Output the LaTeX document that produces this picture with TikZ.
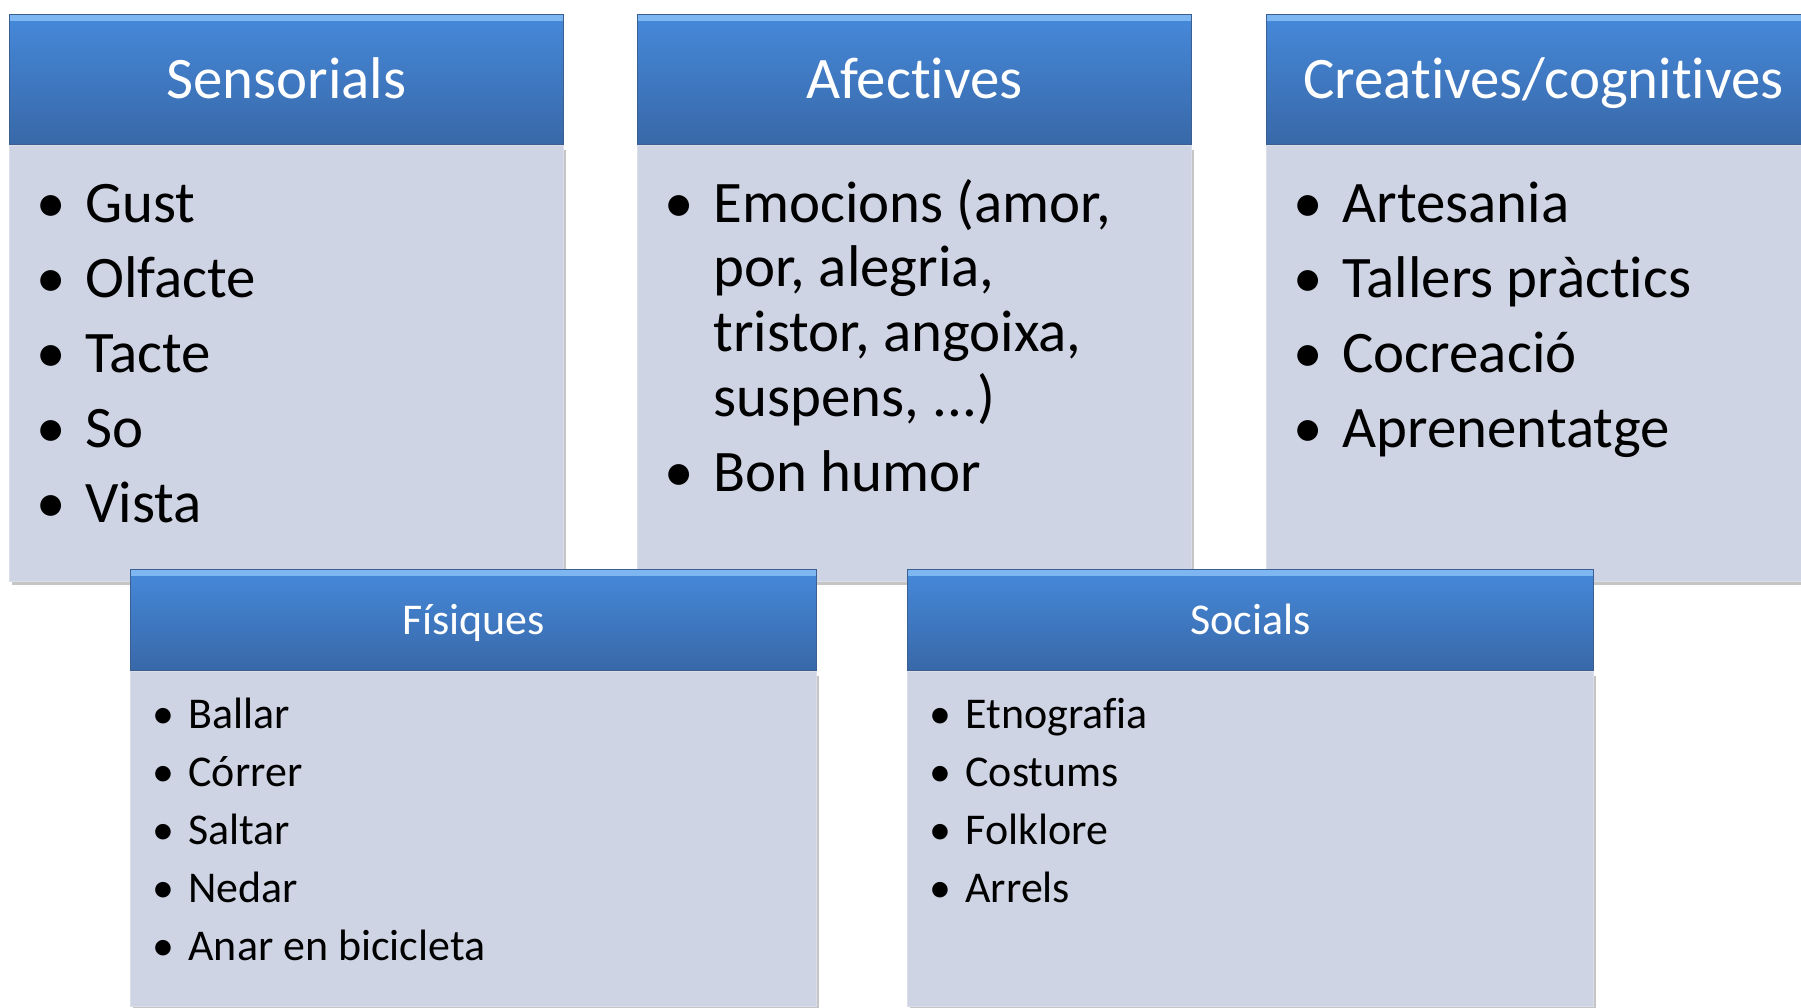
\documentclass[tikz,border=0pt]{standalone}
\usepackage{fontspec}
\setmainfont{Carlito}[Ligatures=NoCommon]
\usetikzlibrary{positioning}
\usetikzlibrary{shadows}

\definecolor{headTop}{RGB}{70,137,218}
\definecolor{headBot}{RGB}{56,104,168}
\definecolor{headLine}{RGB}{125,182,240}
\definecolor{headEdge}{RGB}{60,95,145}
\definecolor{bodyFill}{RGB}{206,212,227}
\definecolor{bodyEdge}{RGB}{218,222,232}

\newlength{\bulpos}
\newlength{\bulind}
\newlength{\strutht}
\newcommand{\bul}[1]{\hangindent=\bulind\hangafter=1\noindent\rule{0pt}{\strutht}\hspace*{\bulpos}\makebox[0pt]{\textbullet}\hspace*{\dimexpr\bulind-\bulpos\relax}#1\par}
\newcommand{\toplist}[1]{%
  \begin{minipage}[t][8.72cm][t]{11.08cm}
    \fontsize{33.5pt}{36.8pt}\selectfont\raggedright
    \setlength{\parskip}{6pt}\setlength{\bulpos}{0.84cm}\setlength{\bulind}{1.52cm}\setlength{\strutht}{0.9cm}
    \vspace*{0.63cm}
    #1
  \end{minipage}}
\newcommand{\lowlist}[1]{%
  \begin{minipage}[t][6.7cm][t]{13.72cm}
    \fontsize{25pt}{29pt}\selectfont\raggedright
    \setlength{\parskip}{4pt}\setlength{\bulpos}{0.66cm}\setlength{\bulind}{1.16cm}\setlength{\strutht}{0.7cm}
    \vspace*{0.44cm}
    #1
  \end{minipage}}

\begin{document}
\begin{tikzpicture}[x=0.02cm, y=-0.02cm,
    headLook/.style={rectangle, inner sep=0pt, draw=headEdge, line width=0.6pt, top color=headTop, bottom color=headBot, text=white,
      path picture={\fill[headLine] (path picture bounding box.north west) rectangle ([yshift=-0.12cm]path picture bounding box.north east);}},
    topHead/.style={headLook, anchor=north west, minimum width=11.08cm, minimum height=2.6cm, font=\fontsize{33.5pt}{40pt}\selectfont, text height=0.76cm, text depth=0pt},
    lowHead/.style={headLook, anchor=north west, minimum width=13.72cm, minimum height=2.02cm, font=\fontsize{25pt}{30pt}\selectfont, text height=0.57cm, text depth=0pt},
    bodyLook/.style={rectangle, inner sep=0pt, fill=bodyFill, draw=bodyEdge, line width=0.6pt, drop shadow={shadow xshift=0.05cm, shadow yshift=-0.08cm, fill=black!45}}]
    \useasboundingbox (0,0) rectangle (1801,1007);

    % top row
    \node [topHead] (sensHead) at (9,14) {Sensorials};
    \node [bodyLook, below=0cm of sensHead] (sensBody) {\toplist{\bul{Gust}\bul{Olfacte}\bul{Tacte}\bul{So}\bul{Vista}}};

    \node [topHead] (afecHead) at (637,14) {Afectives};
    \node [bodyLook, below=0cm of afecHead] (afecBody) {\toplist{\bul{Emocions (amor,\newline por, alegria,\newline tristor, angoixa,\newline suspens, ...)}\bul{Bon humor}}};

    \node [topHead] (creaHead) at (1266,14) {Creatives/cognitives};
    \node [bodyLook, below=0cm of creaHead] (creaBody) {\toplist{\bul{Artesania}\bul{Tallers pràctics}\bul{Cocreació}\bul{Aprenentatge}}};

    % bottom row
    \node [lowHead] (fisiHead) at (130,569) {Físiques};
    \node [bodyLook, below=0cm of fisiHead] (fisiBody) {\lowlist{\bul{Ballar}\bul{Córrer}\bul{Saltar}\bul{Nedar}\bul{Anar en bicicleta}}};

    \node [lowHead] (sociHead) at (907,569) {Socials};
    \node [bodyLook, below=0cm of sociHead] (sociBody) {\lowlist{\bul{Etnografia}\bul{Costums}\bul{Folklore}\bul{Arrels}}};
\end{tikzpicture}
\end{document}
